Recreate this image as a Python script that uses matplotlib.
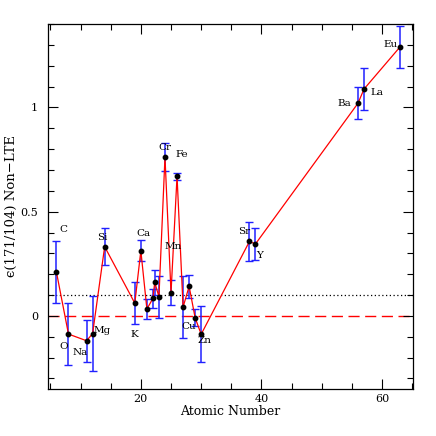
import matplotlib
matplotlib.use("Agg")
import matplotlib.pyplot as plt
from matplotlib.ticker import MultipleLocator

# Data
elements = ["C", "O", "Na", "Mg", "Si", "K", "Ca", "Sc", "Ti", "Ti", "V", "Cr", "Mn", "Fe",
            "Co", "Ni", "Cu", "Zn", "Sr", "Y", "Ba", "La", "Eu"]
atomic_number = [6, 8, 11, 12, 14, 19, 20, 21, 22, 22.3, 23, 24, 25, 26,
                 27, 28, 29, 30, 38, 39, 56, 57, 63]
epsilon = [0.211, -0.087, -0.119, -0.085, 0.332, 0.061, 0.313, 0.033, 0.084, 0.161, 0.092,
           0.762, 0.111, 0.670, 0.042, 0.142, -0.009, -0.088, 0.357, 0.345, 1.020, 1.088, 1.291]
errors = [0.15, 0.15, 0.10, 0.18, 0.09, 0.10, 0.05, 0.05, 0.045, 0.06, 0.10,
          0.065, 0.06, 0.016, 0.15, 0.055, 0.04, 0.135, 0.095, 0.078, 0.077, 0.10, 0.10]
labelled = ["C", "O", "Na", "Mg", "Si", "K", "Ca", "Cr", "Mn", "Fe", "Cu", "Zn",
            "Sr", "Y", "Ba", "La", "Eu"]
# label offsets in pixels (dx, dy) relative to the data point
label_offsets = {"C": (7, 42), "O": (-5, -12), "Na": (-6, -12), "Mg": (10, 3), "Si": (-2, 9),
                 "K": (0, -31), "Ca": (3, 17), "Cr": (0, 10), "Mn": (2, 46), "Fe": (5, 22),
                 "Cu": (-6, -9), "Zn": (3, -6), "Sr": (-5, 10), "Y": (4, -12),
                 "Ba": (-14, 0), "La": (13, -3), "Eu": (-10, 2)}

plt.rcParams['font.family'] = ['DejaVu Serif']
fig = plt.figure(figsize=(4.36, 4.36), dpi=100)
ax = fig.add_axes([0.110, 0.108, 0.837, 0.837])

ax.axhline(0.0, color='red', linestyle=(0, (8, 4)), linewidth=1.0, zorder=1)
ax.axhline(0.1, color='black', linestyle=(0, (1, 2)), linewidth=0.9, zorder=1)

ax.errorbar(atomic_number, epsilon, yerr=errors, fmt='none', ecolor='#2020ff',
            elinewidth=1.1, capsize=3, capthick=1.0, zorder=2)
ax.plot(atomic_number, epsilon, color='red', linewidth=0.9, zorder=3)
ax.plot(atomic_number, epsilon, 'o', color='black', markersize=3.2, zorder=4)

for el, z, v in zip(elements, atomic_number, epsilon):
    if el in labelled and el in label_offsets:
        dx, dy = label_offsets[el]
        ax.annotate(el, (z, v), xytext=(dx, dy), textcoords='offset pixels',
                    ha='center', va='center', fontsize=7.5)
        label_offsets.pop(el)

ax.set_xlim(4.6, 65.1)
ax.set_ylim(-0.35, 1.4)
ax.xaxis.set_major_locator(MultipleLocator(20))
ax.xaxis.set_minor_locator(MultipleLocator(5))
ax.yaxis.set_major_locator(MultipleLocator(0.5))
ax.yaxis.set_minor_locator(MultipleLocator(0.1))
ax.set_yticks([0, 0.5, 1])
ax.set_yticklabels(["0", "0.5", "1"])
ax.tick_params(which='both', direction='in', top=True, right=True, labelsize=8)
ax.tick_params(axis='y', which='major', pad=7)
ax.tick_params(which='major', length=7, width=0.8)
ax.tick_params(which='minor', length=4, width=0.8)
ax.set_xlabel("Atomic Number", fontsize=9, labelpad=1)
ax.set_ylabel("ϵ(171/104) Non−LTE", fontsize=9.5, labelpad=2)
for s in ax.spines.values():
    s.set_linewidth(0.9)

fig.savefig("out.png", dpi=100)
